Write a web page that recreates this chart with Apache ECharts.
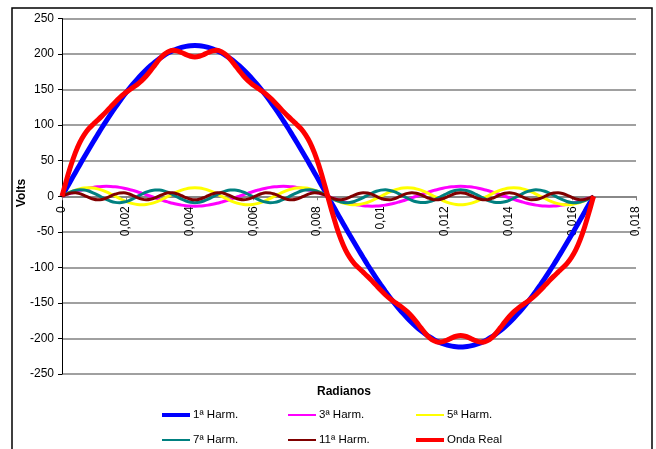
<!DOCTYPE html>
<html>
<head>
<meta charset="utf-8">
<script src="https://cdn.jsdelivr.net/npm/echarts@6/dist/echarts.min.js"></script>
<style>
html,body{margin:0;padding:0;background:#fff;}
#c{width:656px;height:449px;}
</style>
</head>
<body>
<div id="c"></div>
<script>
// time samples (s)
const tempo = [0,0.000139,0.000278,0.000417,0.000556,0.000694,0.000833,0.000972,0.001111,0.00125,0.001389,0.001528,0.001667,0.001806,0.001944,0.002083,0.002222,0.002361,0.0025,0.002639,0.002778,0.002917,0.003056,0.003194,0.003333,0.003472,0.003611,0.00375,0.003889,0.004028,0.004167,0.004306,0.004444,0.004583,0.004722,0.004861,0.005,0.005139,0.005278,0.005417,0.005556,0.005694,0.005833,0.005972,0.006111,0.00625,0.006389,0.006528,0.006667,0.006806,0.006944,0.007083,0.007222,0.007361,0.0075,0.007639,0.007778,0.007917,0.008056,0.008194,0.008333,0.008472,0.008611,0.00875,0.008889,0.009028,0.009167,0.009306,0.009444,0.009583,0.009722,0.009861,0.01,0.010139,0.010278,0.010417,0.010556,0.010694,0.010833,0.010972,0.011111,0.01125,0.011389,0.011528,0.011667,0.011806,0.011944,0.012083,0.012222,0.012361,0.0125,0.012639,0.012778,0.012917,0.013056,0.013194,0.013333,0.013472,0.013611,0.01375,0.013889,0.014028,0.014167,0.014306,0.014444,0.014583,0.014722,0.014861,0.015,0.015139,0.015278,0.015417,0.015556,0.015694,0.015833,0.015972,0.016111,0.01625,0.016389,0.016528,0.016667];

const harm1 = [0,11.1,22.2,33.2,44.1,54.9,65.5,76.0,86.2,96.3,106.0,115.5,124.6,133.4,141.9,149.9,157.6,164.8,171.5,177.8,183.6,188.9,193.7,197.9,201.6,204.8,207.4,209.4,210.8,211.7,212,
211.7,210.8,209.4,207.4,204.8,201.6,197.9,193.7,188.9,183.6,177.8,171.5,164.8,157.6,149.9,141.9,133.4,124.6,115.5,106.0,96.3,86.2,76.0,65.5,54.9,44.1,33.2,22.2,11.1,0,
-11.1,-22.2,-33.2,-44.1,-54.9,-65.5,-76.0,-86.2,-96.3,-106.0,-115.5,-124.6,-133.4,-141.9,-149.9,-157.6,-164.8,-171.5,-177.8,-183.6,-188.9,-193.7,-197.9,-201.6,-204.8,-207.4,-209.4,-210.8,-211.7,-212,
-211.7,-210.8,-209.4,-207.4,-204.8,-201.6,-197.9,-193.7,-188.9,-183.6,-177.8,-171.5,-164.8,-157.6,-149.9,-141.9,-133.4,-124.6,-115.5,-106.0,-96.3,-86.2,-76.0,-65.5,-54.9,-44.1,-33.2,-22.2,-11.1,0];

const harm3 = [0,2.2,4.3,6.4,8.2,9.9,11.3,12.5,13.3,13.8,14,13.8,13.3,12.5,11.3,9.9,8.2,6.4,4.3,2.2,0,-2.2,-4.3,-6.4,-8.2,-9.9,-11.3,-12.5,-13.3,-13.8,-14,
-13.8,-13.3,-12.5,-11.3,-9.9,-8.2,-6.4,-4.3,-2.2,0,2.2,4.3,6.4,8.2,9.9,11.3,12.5,13.3,13.8,14,13.8,13.3,12.5,11.3,9.9,8.2,6.4,4.3,2.2,0,
-2.2,-4.3,-6.4,-8.2,-9.9,-11.3,-12.5,-13.3,-13.8,-14,-13.8,-13.3,-12.5,-11.3,-9.9,-8.2,-6.4,-4.3,-2.2,0,2.2,4.3,6.4,8.2,9.9,11.3,12.5,13.3,13.8,14,
13.8,13.3,12.5,11.3,9.9,8.2,6.4,4.3,2.2,0,-2.2,-4.3,-6.4,-8.2,-9.9,-11.3,-12.5,-13.3,-13.8,-14,-13.8,-13.3,-12.5,-11.3,-9.9,-8.2,-6.4,-4.3,-2.2,0];

const harm5 = [0,3.1,6,8.5,10.4,11.6,12,11.6,10.4,8.5,6,3.1,0,-3.1,-6,-8.5,-10.4,-11.6,-12,-11.6,-10.4,-8.5,-6,-3.1,
0,3.1,6,8.5,10.4,11.6,12,11.6,10.4,8.5,6,3.1,0,-3.1,-6,-8.5,-10.4,-11.6,-12,-11.6,-10.4,-8.5,-6,-3.1,
0,3.1,6,8.5,10.4,11.6,12,11.6,10.4,8.5,6,3.1,0,-3.1,-6,-8.5,-10.4,-11.6,-12,-11.6,-10.4,-8.5,-6,-3.1,
0,3.1,6,8.5,10.4,11.6,12,11.6,10.4,8.5,6,3.1,0,-3.1,-6,-8.5,-10.4,-11.6,-12,-11.6,-10.4,-8.5,-6,-3.1,
0,3.1,6,8.5,10.4,11.6,12,11.6,10.4,8.5,6,3.1,0,-3.1,-6,-8.5,-10.4,-11.6,-12,-11.6,-10.4,-8.5,-6,-3.1,0];

const harm7 = [0,3.2,6.0,8.0,9.0,8.7,7.3,4.9,1.9,-1.4,-4.5,-7.0,-8.6,-9.0,-8.2,-6.4,-3.7,-0.5,2.8,5.7,7.8,8.9,8.8,7.6,5.3,2.3,-0.9,-4.1,-6.7,-8.4,-9,
-8.4,-6.7,-4.1,-0.9,2.3,5.3,7.6,8.8,8.9,7.8,5.7,2.8,-0.5,-3.7,-6.4,-8.2,-9.0,-8.6,-7.0,-4.5,-1.4,1.9,4.9,7.3,8.7,9.0,8.0,6.0,3.2,0,
-3.2,-6.0,-8.0,-9.0,-8.7,-7.3,-4.9,-1.9,1.4,4.5,7.0,8.6,9.0,8.2,6.4,3.7,0.5,-2.8,-5.7,-7.8,-8.9,-8.8,-7.6,-5.3,-2.3,0.9,4.1,6.7,8.4,9,
8.4,6.7,4.1,0.9,-2.3,-5.3,-7.6,-8.8,-8.9,-7.8,-5.7,-2.8,0.5,3.7,6.4,8.2,9.0,8.6,7.0,4.5,1.4,-1.9,-4.9,-7.3,-8.7,-9.0,-8.0,-6.0,-3.2,0];

const harm11 = [0,2.7,4.6,4.9,3.7,1.3,-1.5,-3.9,-5.0,-4.5,-2.5,0.3,2.9,4.7,4.9,3.5,1.0,-1.8,-4.0,-5.0,-4.3,-2.3,0.5,3.1,4.8,4.8,3.3,0.8,-2.0,-4.2,-5,
-4.2,-2.0,0.8,3.3,4.8,4.8,3.1,0.5,-2.3,-4.3,-5.0,-4.0,-1.8,1.0,3.5,4.9,4.7,2.9,0.3,-2.5,-4.5,-5.0,-3.9,-1.5,1.3,3.7,4.9,4.6,2.7,0,
-2.7,-4.6,-4.9,-3.7,-1.3,1.5,3.9,5.0,4.5,2.5,-0.3,-2.9,-4.7,-4.9,-3.5,-1.0,1.8,4.0,5.0,4.3,2.3,-0.5,-3.1,-4.8,-4.8,-3.3,-0.8,2.0,4.2,5,
4.2,2.0,-0.8,-3.3,-4.8,-4.8,-3.1,-0.5,2.3,4.3,5.0,4.0,1.8,-1.0,-3.5,-4.9,-4.7,-2.9,-0.3,2.5,4.5,5.0,3.9,1.5,-1.3,-3.7,-4.9,-4.6,-2.7,0];

const ondaReal = [0,22.4,43.1,61.0,75.4,86.3,94.6,101.0,106.8,112.7,119.0,125.7,132.3,138.5,143.9,148.5,152.8,157.3,162.6,169.1,176.7,184.8,192.7,199.2,203.4,205.2,204.5,202.1,199.2,196.9,196,
196.9,199.2,202.1,204.5,205.2,203.4,199.2,192.7,184.8,176.7,169.1,162.6,157.3,152.8,148.5,143.9,138.5,132.3,125.7,119.0,112.7,106.8,101.0,94.6,86.3,75.4,61.0,43.1,22.4,0,
-22.4,-43.1,-61.0,-75.4,-86.3,-94.6,-101.0,-106.8,-112.7,-119.0,-125.7,-132.3,-138.5,-143.9,-148.5,-152.8,-157.3,-162.6,-169.1,-176.7,-184.8,-192.7,-199.2,-203.4,-205.2,-204.5,-202.1,-199.2,-196.9,-196,
-196.9,-199.2,-202.1,-204.5,-205.2,-203.4,-199.2,-192.7,-184.8,-176.7,-169.1,-162.6,-157.3,-152.8,-148.5,-143.9,-138.5,-132.3,-125.7,-119.0,-112.7,-106.8,-101.0,-94.6,-86.3,-75.4,-61.0,-43.1,-22.4,0];

const seriesNames = ['1ª Harm.','3ª Harm.','5ª Harm.','7ª Harm.','11ª Harm.','Onda Real'];
const seriesValues = [harm1, harm3, harm5, harm7, harm11, ondaReal];
const seriesColors = ['#0000FF','#FF00FF','#FFFF00','#008080','#800000','#FF0000'];
const seriesWidths = [5,3,3,3,3,5];
const legendWidths = [4,2,2,2,2,4];
const yTicks = {min:-250, max:250, step:50};
const xTicks = {min:0, max:0.018, step:0.002};
const xTitle = 'Radianos';
const yTitle = 'Volts';

const FONT = '"Liberation Sans", Arial, sans-serif';
const chart = echarts.init(document.getElementById('c'), null, {renderer:'canvas'});

const legendPos = [[162,409],[288,409],[416,409],[162,434],[288,434],[416,434]];

const option = {
  animation:false,
  backgroundColor:'#fff',
  textStyle:{fontFamily:FONT},
  grid:{left:62, right:20, top:18.5, bottom:75, containLabel:false, outerBoundsMode:'none'},
  xAxis:{
    type:'value', min:xTicks.min, max:xTicks.max, interval:xTicks.step,
    position:'bottom', offset:-177.75,
    axisLine:{show:true, onZero:false, lineStyle:{color:'#808080', width:1.5}},
    axisTick:{show:true, length:4, lineStyle:{color:'#808080', width:1}},
    axisLabel:{rotate:90, margin:10, fontSize:12, color:'#000', fontFamily:FONT,
      formatter:function(v){return String(parseFloat(v.toFixed(3))).replace('.',',');}},
    splitLine:{show:false}
  },
  yAxis:{
    type:'value', min:yTicks.min, max:yTicks.max, interval:yTicks.step,
    axisLine:{show:true, onZero:false, lineStyle:{color:'#000', width:1}},
    axisTick:{show:true, length:4, lineStyle:{color:'#000'}},
    axisLabel:{fontSize:12, color:'#000', margin:8, fontFamily:FONT},
    splitLine:{show:true, lineStyle:{color:'#808080', width:1.5}}
  },
  legend: seriesNames.map(function(n,i){
    return {data:[n], left:legendPos[i][0], top:legendPos[i][1], icon:'rect',
      itemWidth:28, itemHeight:legendWidths[i], itemGap:0, padding:0,
      textStyle:{fontSize:11.5, color:'#000', fontFamily:FONT, padding:[0,0,0,-2]}};
  }),
  graphic:[
    {type:'rect', shape:{x:12, y:8, width:640, height:460}, style:{fill:'none', stroke:'#000', lineWidth:1.5}, silent:true, z:-10},
    {type:'text', x:344, y:392, style:{text:xTitle, font:'bold 12px ' + FONT, fill:'#000', textAlign:'center', textVerticalAlign:'middle'}, silent:true},
    {type:'text', x:22, y:193, rotation:Math.PI/2, style:{text:yTitle, font:'bold 12px ' + FONT, fill:'#000', textAlign:'center', textVerticalAlign:'middle'}, silent:true}
  ],
  series: seriesNames.map(function(n,i){
    return {name:n, type:'line', showSymbol:false, symbol:'none', smooth:0.3,
      data: tempo.map(function(t,k){return [t, seriesValues[i][k]];}),
      lineStyle:{color:seriesColors[i], width:seriesWidths[i]},
      itemStyle:{color:seriesColors[i]}, z:2+i};
  })
};
chart.setOption(option);
</script>
</body>
</html>
